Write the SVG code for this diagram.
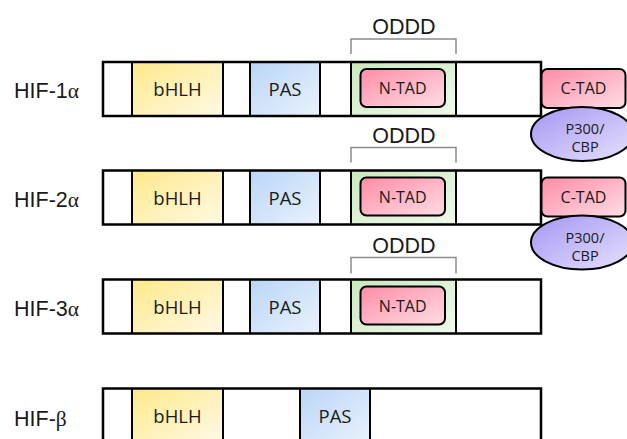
<svg xmlns="http://www.w3.org/2000/svg" width="627" height="439" viewBox="0 0 627 439">
<defs>
<linearGradient id="gY" x1="0" y1="0" x2="1" y2="1"><stop offset="0" stop-color="#FFE98A"/><stop offset="1" stop-color="#FFF9E6"/></linearGradient>
<linearGradient id="gB" x1="0" y1="0" x2="1" y2="1"><stop offset="0" stop-color="#B9D6F7"/><stop offset="1" stop-color="#EAF2FD"/></linearGradient>
<linearGradient id="gG" x1="0" y1="0" x2="1" y2="1"><stop offset="0" stop-color="#C9E9BC"/><stop offset="1" stop-color="#F0F9EC"/></linearGradient>
<linearGradient id="gP" x1="0" y1="0" x2="1" y2="1"><stop offset="0" stop-color="#FF8CA6"/><stop offset="1" stop-color="#FFDDE4"/></linearGradient>
<linearGradient id="gV" x1="0" y1="0" x2="1" y2="1"><stop offset="0" stop-color="#A596F3"/><stop offset="1" stop-color="#E6E1FD"/></linearGradient>
<style>
.lbl{font-family:"Liberation Sans",Arial,sans-serif;font-size:21.5px;fill:#1a1a1a}
.gk{font-family:"Liberation Serif","Times New Roman",serif}
.dom{font-family:"Open Sans","Noto Sans",sans-serif;font-size:18.5px;fill:#1a1a1a;text-anchor:middle}
.sm{font-family:"Open Sans","Noto Sans",sans-serif;font-size:16px;fill:#1a1a1a;text-anchor:middle}
.xs{font-family:"Open Sans","Noto Sans",sans-serif;font-size:14.5px;fill:#1a1a1a;text-anchor:middle}
.oddd{font-family:"Liberation Sans",Arial,sans-serif;font-size:21.5px;fill:#1a1a1a;text-anchor:middle}
.outer{fill:none;stroke:#000;stroke-width:2.5}
.div{stroke:#000;stroke-width:2}
.br{fill:none;stroke:#8c8c8c;stroke-width:1.5}
.tad{fill:url(#gP);stroke:#000;stroke-width:2}
.p300{fill:url(#gV);stroke:#000;stroke-width:2}
</style>
</defs>

<g id="hif1a" transform="translate(0,62)">
<text class="lbl" x="14" y="36">HIF-1<tspan class="gk">α</tspan></text>
<rect x="103" y="0" width="438" height="54" fill="#fff"/>
<rect x="132" y="0" width="91" height="54" fill="url(#gY)"/>
<rect x="250" y="0" width="70" height="54" fill="url(#gB)"/>
<rect x="351" y="0" width="105" height="54" fill="url(#gG)"/>
<g class="div"><line x1="132" y1="0" x2="132" y2="54"/><line x1="223" y1="0" x2="223" y2="54"/><line x1="250" y1="0" x2="250" y2="54"/><line x1="320" y1="0" x2="320" y2="54"/><line x1="351" y1="0" x2="351" y2="54"/><line x1="456" y1="0" x2="456" y2="54"/></g>
<rect class="outer" x="103" y="0" width="438" height="54"/>
<text class="dom" x="177.5" y="34">bHLH</text>
<text class="dom" x="285" y="34">PAS</text>
<rect class="tad" x="360.5" y="7" width="84.5" height="38" rx="6"/>
<text class="sm" x="402.7" y="32">N-TAD</text>
<path class="br" d="M351,-8 V-23 H456 V-8"/>
<text class="oddd" x="404" y="-28">ODDD</text>
<rect class="tad" x="541.5" y="7" width="84" height="39" rx="6"/>
<text class="sm" x="583.5" y="32">C-TAD</text>
<ellipse class="p300" cx="582" cy="72" rx="51" ry="27"/>
<text class="xs" x="585" y="72">P300/</text>
<text class="xs" x="585" y="90">CBP</text>
</g>

<g id="hif2a" transform="translate(0,170.5)">
<text class="lbl" x="14" y="36">HIF-2<tspan class="gk">α</tspan></text>
<rect x="103" y="0" width="438" height="54" fill="#fff"/>
<rect x="132" y="0" width="91" height="54" fill="url(#gY)"/>
<rect x="250" y="0" width="70" height="54" fill="url(#gB)"/>
<rect x="351" y="0" width="105" height="54" fill="url(#gG)"/>
<g class="div"><line x1="132" y1="0" x2="132" y2="54"/><line x1="223" y1="0" x2="223" y2="54"/><line x1="250" y1="0" x2="250" y2="54"/><line x1="320" y1="0" x2="320" y2="54"/><line x1="351" y1="0" x2="351" y2="54"/><line x1="456" y1="0" x2="456" y2="54"/></g>
<rect class="outer" x="103" y="0" width="438" height="54"/>
<text class="dom" x="177.5" y="34">bHLH</text>
<text class="dom" x="285" y="34">PAS</text>
<rect class="tad" x="360.5" y="7" width="84.5" height="38" rx="6"/>
<text class="sm" x="402.7" y="32">N-TAD</text>
<path class="br" d="M351,-8 V-23 H456 V-8"/>
<text class="oddd" x="404" y="-28">ODDD</text>
<rect class="tad" x="541.5" y="7" width="84" height="39" rx="6"/>
<text class="sm" x="583.5" y="32">C-TAD</text>
<ellipse class="p300" cx="582" cy="72" rx="51" ry="27"/>
<text class="xs" x="585" y="72">P300/</text>
<text class="xs" x="585" y="90">CBP</text>
</g>

<g id="hif3a" transform="translate(0,279.5)">
<text class="lbl" x="14" y="36">HIF-3<tspan class="gk">α</tspan></text>
<rect x="103" y="0" width="438" height="54" fill="#fff"/>
<rect x="132" y="0" width="91" height="54" fill="url(#gY)"/>
<rect x="250" y="0" width="70" height="54" fill="url(#gB)"/>
<rect x="351" y="0" width="105" height="54" fill="url(#gG)"/>
<g class="div"><line x1="132" y1="0" x2="132" y2="54"/><line x1="223" y1="0" x2="223" y2="54"/><line x1="250" y1="0" x2="250" y2="54"/><line x1="320" y1="0" x2="320" y2="54"/><line x1="351" y1="0" x2="351" y2="54"/><line x1="456" y1="0" x2="456" y2="54"/></g>
<rect class="outer" x="103" y="0" width="438" height="54"/>
<text class="dom" x="177.5" y="34">bHLH</text>
<text class="dom" x="285" y="34">PAS</text>
<rect class="tad" x="360.5" y="7" width="84.5" height="38" rx="6"/>
<text class="sm" x="402.7" y="32">N-TAD</text>
<path class="br" d="M351,-6 V-22 H456 V-6"/>
<text class="oddd" x="404" y="-27">ODDD</text>
</g>

<g id="hifb" transform="translate(0,388.5)">
<text class="lbl" x="14" y="37">HIF-<tspan class="gk">β</tspan></text>
<rect x="103" y="0" width="438" height="54" fill="#fff"/>
<rect x="132" y="0" width="91" height="54" fill="url(#gY)"/>
<rect x="300" y="0" width="70" height="54" fill="url(#gB)"/>
<g class="div"><line x1="132" y1="0" x2="132" y2="54"/><line x1="223" y1="0" x2="223" y2="54"/><line x1="300" y1="0" x2="300" y2="54"/><line x1="370" y1="0" x2="370" y2="54"/></g>
<rect class="outer" x="103" y="0" width="438" height="54"/>
<text class="dom" x="177.5" y="34.5">bHLH</text>
<text class="dom" x="335" y="34.5">PAS</text>
</g>

<g id="connectors"/>
</svg>
